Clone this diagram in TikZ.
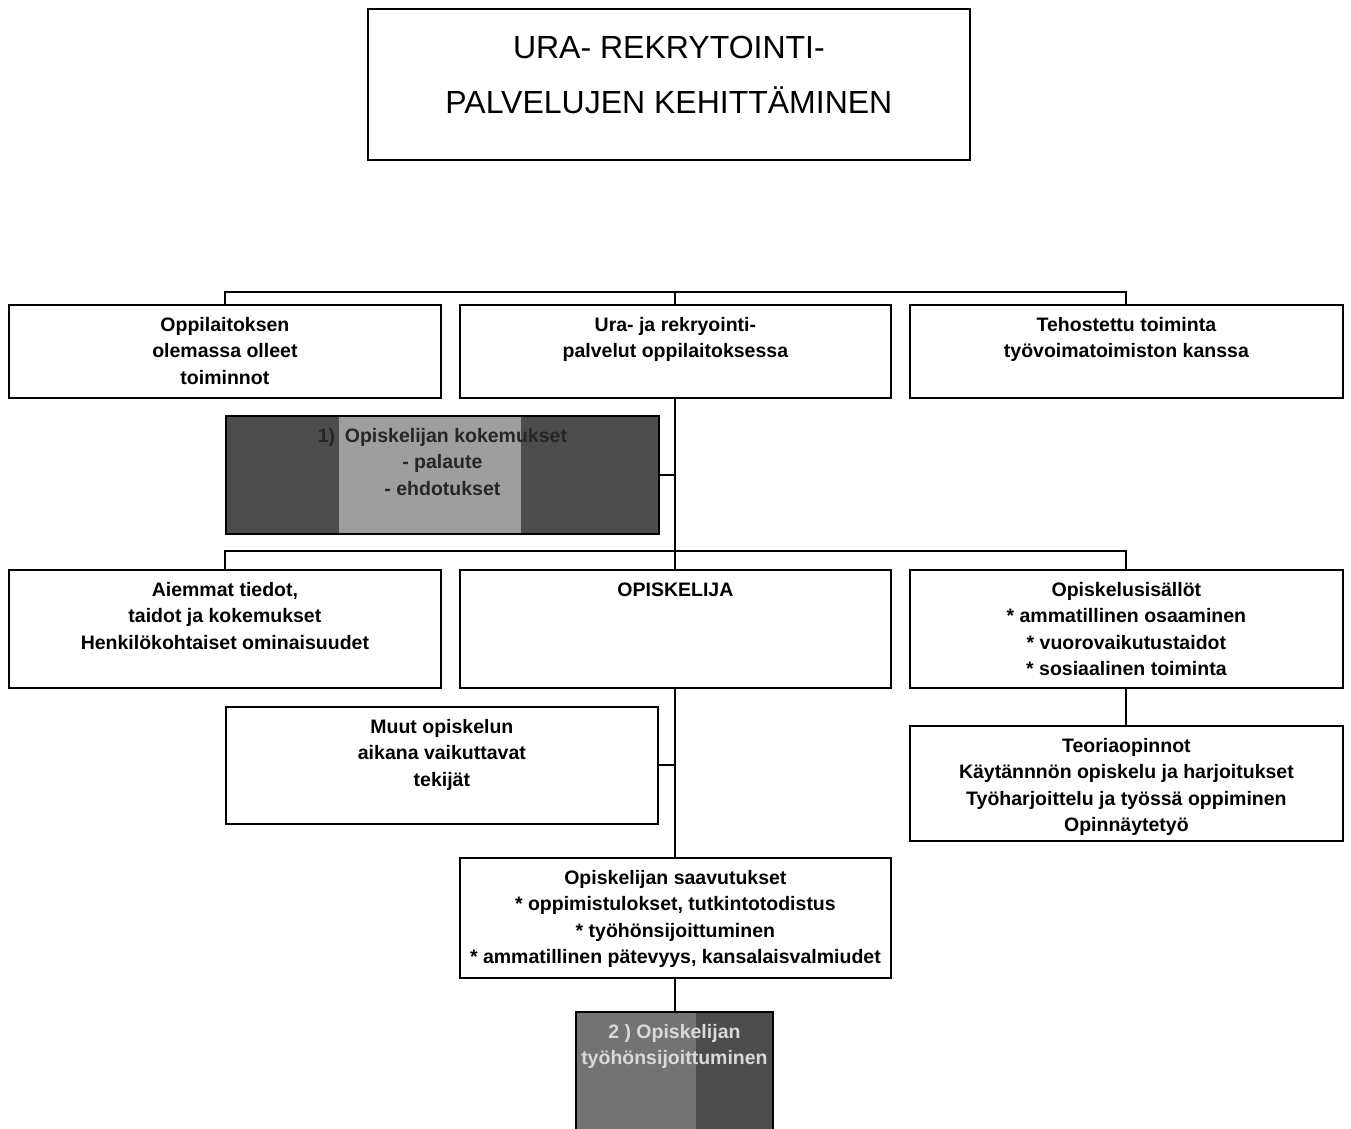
\documentclass[tikz,border=0pt]{standalone}
\usepackage{fontspec}
\setmainfont{Liberation Sans}
\usetikzlibrary{calc}
\usetikzlibrary{positioning}

\definecolor{darkband}{gray}{0.30}
\definecolor{lightband}{gray}{0.62}
\definecolor{midband}{gray}{0.45}
\newcommand{\cellfont}{\fontsize{19.5}{26.5}\selectfont\bfseries}

\tikzset{
  box/.style 2 args={draw, line width=1.8pt, inner sep=0pt, anchor=north west,
    execute at begin node={\begin{minipage}[c][#2][t]{#1}\centering\cellfont\vspace*{8pt}\strut},
    execute at end node={\end{minipage}}},
  titlebox/.style={draw, line width=1.8pt, inner sep=0pt, anchor=north west,
    execute at begin node={\begin{minipage}[c][151pt][t]{602pt}\centering\fontsize{32}{55}\selectfont\vspace*{11pt}\strut},
    execute at end node={\end{minipage}}},
  link/.style={line width=2pt},
}

\begin{document}
\begin{tikzpicture}[x=1pt, y=-1pt]
        \useasboundingbox (0,0) rectangle (1351,1128);
        \node[titlebox] (title) at (367,8) {URA- REKRYTOINTI-\hspace*{66pt}\\PALVELUJEN KEHITTÄMINEN};
        % first row
        \node[box={432pt}{93pt}] (ora) at (8,304) {Oppilaitoksen\\olemassa olleet\\toiminnot};
        \node[box={431pt}{93pt}] (ura) at (459,304) {Ura- ja rekryointi-\\palvelut oppilaitoksessa};
        \node[box={433pt}{93pt}] (teho) at (909,304) {Tehostettu toiminta\\työvoimatoimiston kanssa};
        \draw[link] (ora.north) -- ++(0,-12) -| (teho.north);
        \draw[link] (ura.north) -- ++(0,-12);
        % shaded box 1
        \node[box={433pt}{118pt}, fill=darkband, text=black!85,
              path picture={\fill[lightband] ([xshift=113pt]path picture bounding box.south west) rectangle ([xshift=295pt]path picture bounding box.north west);}]
              (kok) at (225,415) {1)\enspace Opiskelijan kokemukset\\- palaute\\- ehdotukset};
        % second row
        \node[box={432pt}{118pt}] (aie) at (8,569) {Aiemmat tiedot,\\taidot ja kokemukset\\Henkilökohtaiset ominaisuudet};
        \node[box={431pt}{118pt}] (opi) at (459,569) {OPISKELIJA};
        \node[box={433pt}{118pt}] (sis) at (909,569) {Opiskelusisällöt\\{}* ammatillinen osaaminen\\{}* vuorovaikutustaidot\\{}* sosiaalinen toiminta};
        \draw[link] (ura.south) -- (opi.north);
        \draw[link] (kok.east) -- (kok.east -| ura.south);
        \draw[link] (aie.north) -- ++(0,-18) -| (sis.north);
        % below
        \node[box={432pt}{117pt}] (muut) at (225,706) {Muut opiskelun\\aikana vaikuttavat\\tekijät};
        \node[box={433pt}{115pt}] (teor) at (909,725) {Teoriaopinnot\\Käytännnön opiskelu ja harjoitukset\\Työharjoittelu ja työssä oppiminen\\Opinnäytetyö};
        \node[box={431pt}{120pt}] (saav) at (459,857) {Opiskelijan saavutukset\\{}* oppimistulokset, tutkintotodistus\\{}* työhönsijoittuminen\\{}* ammatillinen pätevyys, kansalaisvalmiudet};
        \draw[link] (opi.south) -- (saav.north);
        \draw[link] (muut.east) -- (muut.east -| opi.south);
        \draw[link] (sis.south) -- (teor.north);
        % shaded box 2
        \node[box={197pt}{130pt}, fill=darkband, text=gray!30,
              path picture={\fill[midband] (path picture bounding box.south west) rectangle ([xshift=120pt]path picture bounding box.north west);}]
              (tyo) at (575,1011) {2 ) Opiskelijan\\työhönsijoittuminen};
        \draw[link] (saav.south) -- (saav.south |- tyo.north);
\end{tikzpicture}
\end{document}
